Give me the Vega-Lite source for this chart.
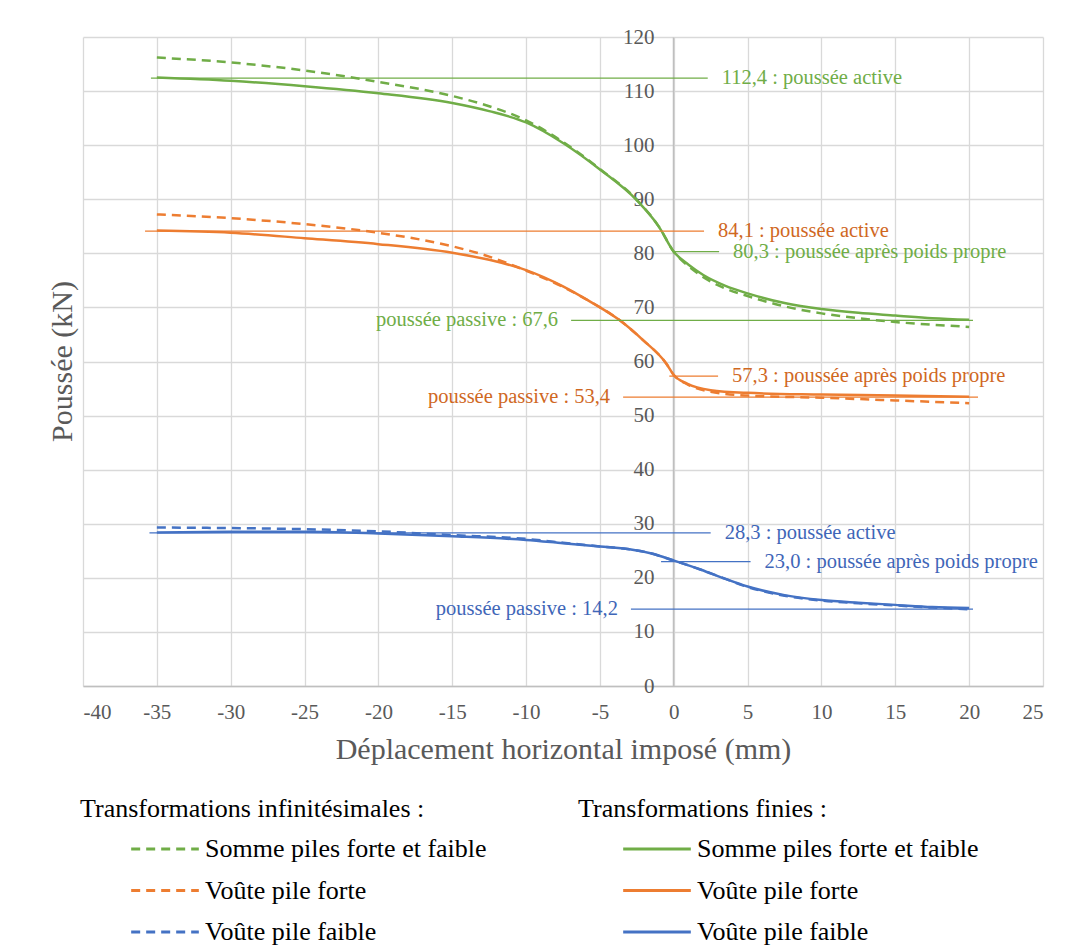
{
  "$schema": "https://vega.github.io/schema/vega-lite/v6.json",
  "width": 960,
  "height": 649,
  "autosize": {"type": "none"},
  "padding": {"left": 83, "top": 37, "right": 30, "bottom": 263},
  "background": "white",
  "config": {
    "font": "Liberation Serif",
    "view": {"stroke": null},
    "axis": {
      "gridColor": "#d9d9d9",
      "gridWidth": 1.3,
      "domainColor": "#bfbfbf",
      "domainWidth": 1.5,
      "ticks": false,
      "labelColor": "#595959",
      "labelFontSize": 21,
      "labelFont": "Liberation Serif",
      "titleColor": "#595959",
      "titleFontSize": 30,
      "titleFontWeight": "normal",
      "titleFont": "Liberation Serif"
    },
    "legend": {
      "labelFontSize": 26,
      "titleFontSize": 26,
      "titleFontWeight": "normal",
      "labelFont": "Liberation Serif",
      "titleFont": "Liberation Serif",
      "labelColor": "#000000",
      "titleColor": "#000000",
      "labelLimit": 0,
      "titleLimit": 0,
      "padding": 0,
      "rowPadding": 6.5,
      "titlePadding": 5,
      "symbolType": "M-1.65,0H1.65",
      "symbolSize": 1681,
      "symbolStrokeWidth": 3
    }
  },
  "datasets": {
    "infinitesimales": [
      {"serie": "Somme piles forte et faible", "deplacement": -35, "poussee": 116.2},
      {"serie": "Somme piles forte et faible", "deplacement": -30, "poussee": 115.3},
      {"serie": "Somme piles forte et faible", "deplacement": -25, "poussee": 113.8},
      {"serie": "Somme piles forte et faible", "deplacement": -20, "poussee": 111.7},
      {"serie": "Somme piles forte et faible", "deplacement": -15, "poussee": 109.1},
      {"serie": "Somme piles forte et faible", "deplacement": -12.5, "poussee": 107.2},
      {"serie": "Somme piles forte et faible", "deplacement": -10, "poussee": 104.6},
      {"serie": "Somme piles forte et faible", "deplacement": -7.5, "poussee": 100.6},
      {"serie": "Somme piles forte et faible", "deplacement": -5, "poussee": 95.6},
      {"serie": "Somme piles forte et faible", "deplacement": -2.5, "poussee": 89.9},
      {"serie": "Somme piles forte et faible", "deplacement": -1, "poussee": 84.9},
      {"serie": "Somme piles forte et faible", "deplacement": 0, "poussee": 80.3},
      {"serie": "Somme piles forte et faible", "deplacement": 1, "poussee": 77.6},
      {"serie": "Somme piles forte et faible", "deplacement": 2, "poussee": 75.6},
      {"serie": "Somme piles forte et faible", "deplacement": 3.5, "poussee": 73.5},
      {"serie": "Somme piles forte et faible", "deplacement": 5, "poussee": 72.1},
      {"serie": "Somme piles forte et faible", "deplacement": 7.5, "poussee": 70.2},
      {"serie": "Somme piles forte et faible", "deplacement": 10, "poussee": 68.9},
      {"serie": "Somme piles forte et faible", "deplacement": 12.5, "poussee": 68.0},
      {"serie": "Somme piles forte et faible", "deplacement": 15, "poussee": 67.3},
      {"serie": "Somme piles forte et faible", "deplacement": 17.5, "poussee": 66.8},
      {"serie": "Somme piles forte et faible", "deplacement": 20, "poussee": 66.4},
      {"serie": "Voûte pile forte", "deplacement": -35, "poussee": 87.2},
      {"serie": "Voûte pile forte", "deplacement": -30, "poussee": 86.5},
      {"serie": "Voûte pile forte", "deplacement": -25, "poussee": 85.4},
      {"serie": "Voûte pile forte", "deplacement": -20, "poussee": 83.8},
      {"serie": "Voûte pile forte", "deplacement": -15, "poussee": 81.3},
      {"serie": "Voûte pile forte", "deplacement": -12.5, "poussee": 79.4},
      {"serie": "Voûte pile forte", "deplacement": -10, "poussee": 76.8},
      {"serie": "Voûte pile forte", "deplacement": -7.5, "poussee": 73.8},
      {"serie": "Voûte pile forte", "deplacement": -5.8, "poussee": 71.3},
      {"serie": "Voûte pile forte", "deplacement": -3.7, "poussee": 67.7},
      {"serie": "Voûte pile forte", "deplacement": -2.1, "poussee": 64.0},
      {"serie": "Voûte pile forte", "deplacement": -0.5, "poussee": 59.6},
      {"serie": "Voûte pile forte", "deplacement": 0, "poussee": 57.5},
      {"serie": "Voûte pile forte", "deplacement": 0.9, "poussee": 55.8},
      {"serie": "Voûte pile forte", "deplacement": 2.5, "poussee": 54.4},
      {"serie": "Voûte pile forte", "deplacement": 5, "poussee": 53.7},
      {"serie": "Voûte pile forte", "deplacement": 10, "poussee": 53.3},
      {"serie": "Voûte pile forte", "deplacement": 15, "poussee": 52.8},
      {"serie": "Voûte pile forte", "deplacement": 20, "poussee": 52.3},
      {"serie": "Voûte pile faible", "deplacement": -35, "poussee": 29.3},
      {"serie": "Voûte pile faible", "deplacement": -30, "poussee": 29.2},
      {"serie": "Voûte pile faible", "deplacement": -25, "poussee": 29.0},
      {"serie": "Voûte pile faible", "deplacement": -20, "poussee": 28.6},
      {"serie": "Voûte pile faible", "deplacement": -15, "poussee": 27.9},
      {"serie": "Voûte pile faible", "deplacement": -10, "poussee": 27.2},
      {"serie": "Voûte pile faible", "deplacement": -7.5, "poussee": 26.5},
      {"serie": "Voûte pile faible", "deplacement": -5, "poussee": 25.8},
      {"serie": "Voûte pile faible", "deplacement": -3, "poussee": 25.3},
      {"serie": "Voûte pile faible", "deplacement": -1.5, "poussee": 24.5},
      {"serie": "Voûte pile faible", "deplacement": 0, "poussee": 23.2},
      {"serie": "Voûte pile faible", "deplacement": 1.85, "poussee": 21.5},
      {"serie": "Voûte pile faible", "deplacement": 3.5, "poussee": 19.8},
      {"serie": "Voûte pile faible", "deplacement": 5, "poussee": 18.3},
      {"serie": "Voûte pile faible", "deplacement": 7.5, "poussee": 16.7},
      {"serie": "Voûte pile faible", "deplacement": 10, "poussee": 15.8},
      {"serie": "Voûte pile faible", "deplacement": 12.5, "poussee": 15.3},
      {"serie": "Voûte pile faible", "deplacement": 15, "poussee": 14.9},
      {"serie": "Voûte pile faible", "deplacement": 17.5, "poussee": 14.5},
      {"serie": "Voûte pile faible", "deplacement": 20, "poussee": 14.2}
    ],
    "finies": [
      {"serie": "Somme piles forte et faible", "deplacement": -35, "poussee": 112.5},
      {"serie": "Somme piles forte et faible", "deplacement": -30, "poussee": 111.9},
      {"serie": "Somme piles forte et faible", "deplacement": -25, "poussee": 110.9},
      {"serie": "Somme piles forte et faible", "deplacement": -20, "poussee": 109.6},
      {"serie": "Somme piles forte et faible", "deplacement": -15, "poussee": 107.8},
      {"serie": "Somme piles forte et faible", "deplacement": -12.5, "poussee": 106.3},
      {"serie": "Somme piles forte et faible", "deplacement": -10, "poussee": 104.2},
      {"serie": "Somme piles forte et faible", "deplacement": -7.5, "poussee": 100.4},
      {"serie": "Somme piles forte et faible", "deplacement": -5, "poussee": 95.5},
      {"serie": "Somme piles forte et faible", "deplacement": -2.5, "poussee": 89.8},
      {"serie": "Somme piles forte et faible", "deplacement": -1, "poussee": 84.9},
      {"serie": "Somme piles forte et faible", "deplacement": 0, "poussee": 80.3},
      {"serie": "Somme piles forte et faible", "deplacement": 1, "poussee": 77.9},
      {"serie": "Somme piles forte et faible", "deplacement": 2, "poussee": 76.0},
      {"serie": "Somme piles forte et faible", "deplacement": 3.5, "poussee": 74.0},
      {"serie": "Somme piles forte et faible", "deplacement": 5, "poussee": 72.6},
      {"serie": "Somme piles forte et faible", "deplacement": 7.5, "poussee": 70.8},
      {"serie": "Somme piles forte et faible", "deplacement": 10, "poussee": 69.7},
      {"serie": "Somme piles forte et faible", "deplacement": 12.5, "poussee": 69.0},
      {"serie": "Somme piles forte et faible", "deplacement": 15, "poussee": 68.5},
      {"serie": "Somme piles forte et faible", "deplacement": 17.5, "poussee": 68.0},
      {"serie": "Somme piles forte et faible", "deplacement": 20, "poussee": 67.7},
      {"serie": "Voûte pile forte", "deplacement": -35, "poussee": 84.2},
      {"serie": "Voûte pile forte", "deplacement": -30, "poussee": 83.8},
      {"serie": "Voûte pile forte", "deplacement": -25, "poussee": 82.8},
      {"serie": "Voûte pile forte", "deplacement": -20, "poussee": 81.7},
      {"serie": "Voûte pile forte", "deplacement": -15, "poussee": 80.1},
      {"serie": "Voûte pile forte", "deplacement": -12.5, "poussee": 78.8},
      {"serie": "Voûte pile forte", "deplacement": -10, "poussee": 76.9},
      {"serie": "Voûte pile forte", "deplacement": -7.5, "poussee": 73.9},
      {"serie": "Voûte pile forte", "deplacement": -5.8, "poussee": 71.3},
      {"serie": "Voûte pile forte", "deplacement": -3.7, "poussee": 67.7},
      {"serie": "Voûte pile forte", "deplacement": -2.1, "poussee": 64.0},
      {"serie": "Voûte pile forte", "deplacement": -0.5, "poussee": 59.6},
      {"serie": "Voûte pile forte", "deplacement": 0, "poussee": 57.5},
      {"serie": "Voûte pile forte", "deplacement": 0.9, "poussee": 55.9},
      {"serie": "Voûte pile forte", "deplacement": 2.5, "poussee": 54.7},
      {"serie": "Voûte pile forte", "deplacement": 5, "poussee": 54.2},
      {"serie": "Voûte pile forte", "deplacement": 10, "poussee": 53.9},
      {"serie": "Voûte pile forte", "deplacement": 15, "poussee": 53.7},
      {"serie": "Voûte pile forte", "deplacement": 20, "poussee": 53.5},
      {"serie": "Voûte pile faible", "deplacement": -35, "poussee": 28.4},
      {"serie": "Voûte pile faible", "deplacement": -30, "poussee": 28.5},
      {"serie": "Voûte pile faible", "deplacement": -25, "poussee": 28.5},
      {"serie": "Voûte pile faible", "deplacement": -20, "poussee": 28.2},
      {"serie": "Voûte pile faible", "deplacement": -15, "poussee": 27.7},
      {"serie": "Voûte pile faible", "deplacement": -10, "poussee": 27.0},
      {"serie": "Voûte pile faible", "deplacement": -7.5, "poussee": 26.4},
      {"serie": "Voûte pile faible", "deplacement": -5, "poussee": 25.8},
      {"serie": "Voûte pile faible", "deplacement": -3, "poussee": 25.3},
      {"serie": "Voûte pile faible", "deplacement": -1.5, "poussee": 24.5},
      {"serie": "Voûte pile faible", "deplacement": 0, "poussee": 23.2},
      {"serie": "Voûte pile faible", "deplacement": 1.85, "poussee": 21.5},
      {"serie": "Voûte pile faible", "deplacement": 3.5, "poussee": 19.8},
      {"serie": "Voûte pile faible", "deplacement": 5, "poussee": 18.4},
      {"serie": "Voûte pile faible", "deplacement": 7.5, "poussee": 16.8},
      {"serie": "Voûte pile faible", "deplacement": 10, "poussee": 15.9},
      {"serie": "Voûte pile faible", "deplacement": 12.5, "poussee": 15.4},
      {"serie": "Voûte pile faible", "deplacement": 15, "poussee": 15.0},
      {"serie": "Voûte pile faible", "deplacement": 17.5, "poussee": 14.6},
      {"serie": "Voûte pile faible", "deplacement": 20, "poussee": 14.4}
    ],
    "annotations": [
      {"serie": "Somme piles forte et faible", "poussee": 112.4, "debut": -35.4, "fin": 2.3, "texte": "112,4 : poussée active", "cote": "droite"},
      {"serie": "Somme piles forte et faible", "poussee": 80.3, "debut": 0, "fin": 3.07, "texte": "80,3 : poussée après poids propre", "cote": "droite"},
      {"serie": "Somme piles forte et faible", "poussee": 67.6, "debut": -6.95, "fin": 20.26, "texte": "poussée passive : 67,6", "cote": "gauche"},
      {"serie": "Voûte pile forte", "poussee": 84.1, "debut": -35.8, "fin": 2.05, "texte": "84,1 : poussée active", "cote": "droite"},
      {"serie": "Voûte pile forte", "poussee": 57.3, "debut": -0.3, "fin": 3.0, "texte": "57,3 : poussée après poids propre", "cote": "droite"},
      {"serie": "Voûte pile forte", "poussee": 53.4, "debut": -3.43, "fin": 20.6, "texte": "poussée passive : 53,4", "cote": "gauche"},
      {"serie": "Voûte pile faible", "poussee": 28.3, "debut": -35.5, "fin": 2.5, "texte": "28,3 : poussée active", "cote": "droite"},
      {"serie": "Voûte pile faible", "poussee": 23.0, "debut": -0.86, "fin": 5.2, "texte": "23,0 : poussée après poids propre", "cote": "droite"},
      {"serie": "Voûte pile faible", "poussee": 14.2, "debut": -2.9, "fin": 20.26, "texte": "poussée passive : 14,2", "cote": "gauche"}
    ]
  },
  "layer": [
    {
      "data": {"name": "infinitesimales"},
      "mark": {"type": "line", "strokeWidth": 2.5, "strokeDash": [9, 6], "interpolate": "monotone"},
      "encoding": {
        "x": {
          "field": "deplacement", "type": "quantitative",
          "scale": {"domain": [-40, 25], "nice": false, "zero": false},
          "axis": {
            "values": [-40, -35, -30, -25, -20, -15, -10, -5, 0, 5, 10, 15, 20, 25],
            "labelExpr": "'' + datum.value",
            "labelPadding": 15,
            "titlePadding": 12,
            "title": "Déplacement horizontal imposé (mm)"
          },
          "title": "Déplacement horizontal imposé (mm)"
        },
        "y": {
          "field": "poussee", "type": "quantitative",
          "scale": {"domain": [0, 120], "nice": false},
          "axis": {
            "values": [0, 10, 20, 30, 40, 50, 60, 70, 80, 90, 100, 110, 120],
            "offset": -590,
            "labelPadding": 19,
            "title": "Poussée (kN)",
            "titleX": -611,
            "titleY": 324,
            "titleAngle": -90,
            "titleAlign": "center",
            "titleBaseline": "middle"
          },
          "title": "Poussée (kN)"
        },
        "color": {
          "field": "serie", "type": "nominal",
          "sort": ["Somme piles forte et faible", "Voûte pile forte", "Voûte pile faible"],
          "scale": {"range": ["#70AD47", "#ED7D31", "#4472C4"]},
          "legend": {
            "title": "Transformations infinitésimales :",
            "orient": "none",
            "legendX": -3,
            "legendY": 759,
            "symbolDash": [9, 6],
            "symbolOffset": 63,
            "labelOffset": 18
          }
        }
      }
    },
    {
      "data": {"name": "finies"},
      "mark": {"type": "line", "strokeWidth": 2.5, "interpolate": "monotone"},
      "encoding": {
        "x": {"field": "deplacement", "type": "quantitative", "title": "Déplacement horizontal imposé (mm)"},
        "y": {"field": "poussee", "type": "quantitative", "title": "Poussée (kN)"},
        "stroke": {
          "field": "serie", "type": "nominal",
          "sort": ["Somme piles forte et faible", "Voûte pile forte", "Voûte pile faible"],
          "scale": {"range": ["#70AD47", "#ED7D31", "#4472C4"]},
          "legend": {
            "title": "Transformations finies :",
            "orient": "none",
            "legendX": 495,
            "legendY": 759,
            "symbolOffset": 57,
            "labelOffset": 18
          }
        }
      }
    },
    {
      "data": {"name": "annotations"},
      "mark": {"type": "rule", "strokeWidth": 1.3},
      "encoding": {
        "x": {"field": "debut", "type": "quantitative", "title": "Déplacement horizontal imposé (mm)"},
        "x2": {"field": "fin"},
        "y": {"field": "poussee", "type": "quantitative", "title": "Poussée (kN)"},
        "color": {
          "field": "serie", "type": "nominal",
          "scale": {"domain": ["Somme piles forte et faible", "Voûte pile forte", "Voûte pile faible"], "range": ["#70AD47", "#ED7D31", "#4472C4"]},
          "legend": null
        }
      }
    },
    {
      "data": {"name": "annotations"},
      "transform": [{"filter": "datum.cote == 'droite'"}],
      "mark": {"type": "text", "align": "left", "baseline": "middle", "dx": 14, "fontSize": 20.5, "font": "Liberation Serif"},
      "encoding": {
        "x": {"field": "fin", "type": "quantitative", "title": "Déplacement horizontal imposé (mm)"},
        "y": {"field": "poussee", "type": "quantitative", "title": "Poussée (kN)"},
        "text": {"field": "texte"},
        "color": {
          "field": "serie", "type": "nominal",
          "scale": {"domain": ["Somme piles forte et faible", "Voûte pile forte", "Voûte pile faible"], "range": ["#70AD47", "#D0681F", "#3F66B8"]},
          "legend": null
        }
      }
    },
    {
      "data": {"name": "annotations"},
      "transform": [{"filter": "datum.cote == 'gauche'"}],
      "mark": {"type": "text", "align": "right", "baseline": "middle", "dx": -13, "fontSize": 20.5, "font": "Liberation Serif"},
      "encoding": {
        "x": {"field": "debut", "type": "quantitative", "title": "Déplacement horizontal imposé (mm)"},
        "y": {"field": "poussee", "type": "quantitative", "title": "Poussée (kN)"},
        "text": {"field": "texte"},
        "color": {
          "field": "serie", "type": "nominal",
          "scale": {"domain": ["Somme piles forte et faible", "Voûte pile forte", "Voûte pile faible"], "range": ["#70AD47", "#D0681F", "#3F66B8"]},
          "legend": null
        }
      }
    }
  ],
  "resolve": {"scale": {"color": "independent"}}
}
